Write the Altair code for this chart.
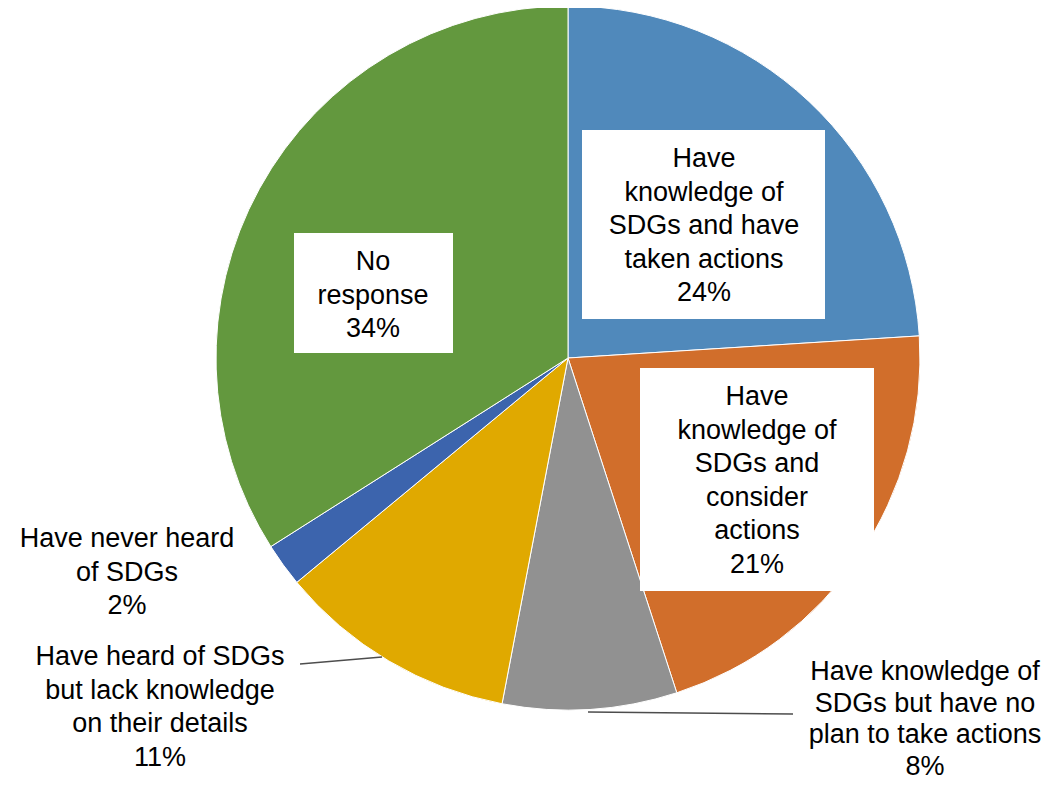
import altair as alt
import pandas as pd

# ---- data ----
categories = [
    "Have knowledge of SDGs and have taken actions",
    "Have knowledge of SDGs and consider actions",
    "Have knowledge of SDGs but have no plan to take actions",
    "Have heard of SDGs but lack knowledge on their details",
    "Have never heard of SDGs",
    "No response",
]
values = [24, 21, 8, 11, 2, 34]
wrapped_labels = [
    "Have\nknowledge of\nSDGs and have\ntaken actions",
    "Have\nknowledge of\nSDGs and\nconsider\nactions",
    "Have knowledge of\nSDGs but have no\nplan to take actions",
    "Have heard of SDGs\nbut lack knowledge\non their details",
    "Have never heard\nof SDGs",
    "No\nresponse",
]
colors = ["#5089BB", "#D16E2B", "#919191", "#E0A900", "#3C64AD", "#63983E"]

# ---- layout (plot-area pixels) ----
W, H = 1035, 772
CX, CY, R = 560, 350, 352
label_x = [696, 749, 917, 152, 119, 365]
label_y = [159, 397, 672, 657, 539, 262]  # baseline of first line
label_group = ["inside", "inside", "right", "left", "left", "inside"]
box_x1 = [574, 632, 286]
box_x2 = [817, 866, 445]
box_y1 = [122, 360, 225]
box_y2 = [311, 583, 345]
lead_x1 = [292, 580]
lead_y1 = [656, 704]
lead_x2 = [374, 785]
lead_y2 = [649, 706]

df = pd.DataFrame({"category": categories, "value": values, "order": list(range(len(values)))})
df["label"] = [f"{w}\n{v}%" for w, v in zip(wrapped_labels, values)]
df["lx"] = label_x
df["ly"] = label_y
df["group"] = label_group

boxes = pd.DataFrame({"x1": box_x1, "x2": box_x2, "y1": box_y1, "y2": box_y2})
leads = pd.DataFrame({"x1": lead_x1, "x2": lead_x2, "y1": lead_y1, "y2": lead_y2})

xs = alt.Scale(domain=[0, W], nice=False, zero=False)
ys = alt.Scale(domain=[0, H], reverse=True, nice=False, zero=False)

pie = alt.Chart(df).mark_arc(outerRadius=R, stroke="white", strokeWidth=1).encode(
    theta=alt.Theta("value:Q", stack=True),
    color=alt.Color("category:N", scale=alt.Scale(domain=categories, range=colors), legend=None),
    order=alt.Order("order:Q"),
    x=alt.value(CX),
    y=alt.value(CY),
)

rects = alt.Chart(boxes).mark_rect(fill="white").encode(
    x=alt.X("x1:Q", scale=xs, axis=None),
    x2="x2:Q",
    y=alt.Y("y1:Q", scale=ys, axis=None),
    y2="y2:Q",
)

rules = alt.Chart(leads).mark_rule(color="#4d4d4d", strokeWidth=1.5).encode(
    x=alt.X("x1:Q", scale=xs, axis=None),
    x2="x2:Q",
    y=alt.Y("y1:Q", scale=ys, axis=None),
    y2="y2:Q",
)


def text_layer(group, lh):
    return alt.Chart(df).transform_filter(alt.datum.group == group).mark_text(
        align="center", baseline="alphabetic", lineBreak="\n",
        font="Liberation Sans", fontSize=27, lineHeight=lh, color="black",
    ).encode(
        x=alt.X("lx:Q", scale=xs, axis=None),
        y=alt.Y("ly:Q", scale=ys, axis=None),
        text="label:N",
    )


chart = alt.layer(
    pie, rects, rules,
    text_layer("inside", 33.6), text_layer("left", 33.5), text_layer("right", 31.5),
).properties(
    width=W, height=H, padding=0, autosize="none"
).configure_view(stroke=None)

chart.save("out.html", embed_options={"renderer": "svg", "actions": False})
